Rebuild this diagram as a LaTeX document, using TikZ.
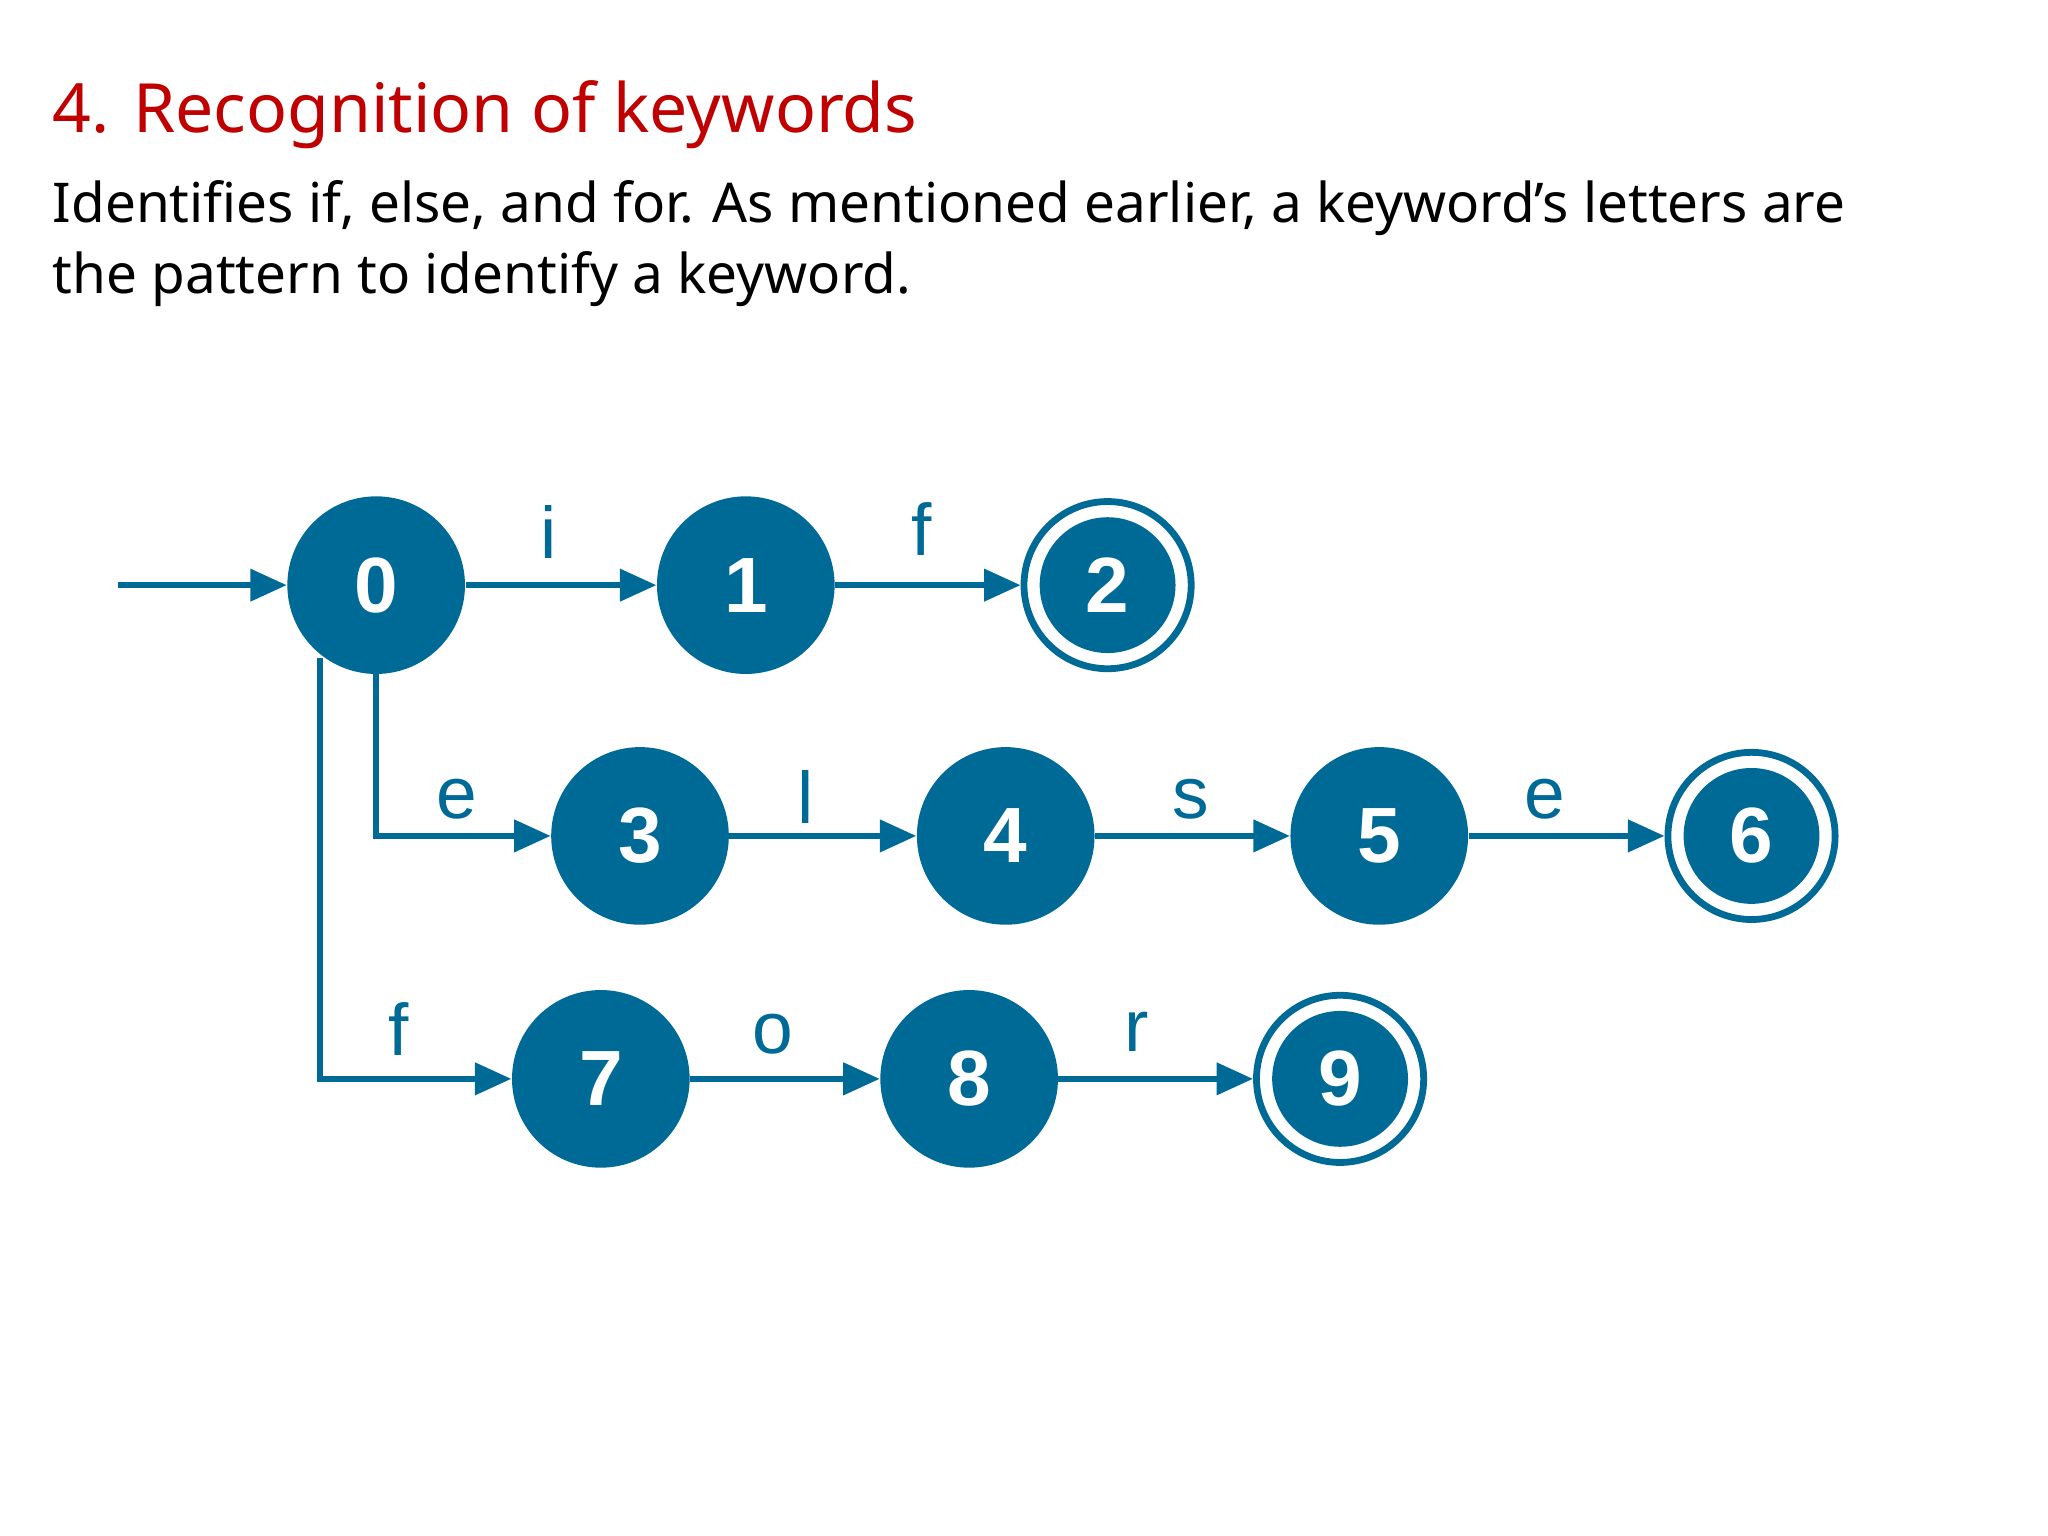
\documentclass[tikz,border=0pt]{standalone}
\usepackage{fontspec}
\setmainfont{Noto Sans}
\newfontfamily\arial{Liberation Sans}
\usetikzlibrary{arrows.meta}
\definecolor{dblue}{HTML}{006A96}
\definecolor{tred}{HTML}{C00000}
\begin{document}
\begin{tikzpicture}[x=0.5pt,y=-0.5pt,
  st/.style={circle,fill=dblue,minimum size=68pt,inner sep=0pt,text=white,font=\arial\bfseries\fontsize{30}{30}\selectfont},
  acc/.style={circle,draw=dblue,line width=2.6pt,fill=white,minimum size=64pt,inner sep=0pt},
  inner/.style={circle,fill=dblue,minimum size=52pt,inner sep=0pt,text=white,font=\arial\bfseries\fontsize{30}{30}\selectfont},
  tr/.style={draw=dblue,line width=2.4pt,-{Triangle[length=14pt,width=12pt]}},
  lab/.style={text=dblue,font=\arial\fontsize{28}{28}\selectfont,inner sep=0pt}]
\useasboundingbox (0,0) rectangle (1568,1176);
\node[anchor=west,text=tred,font=\bfseries\fontsize{26}{26}\selectfont,inner sep=0pt] (title) at (40,88) {4. Recognition of keywords};
\node[anchor=north west,align=left,font=\fontsize{21}{27}\selectfont,inner sep=0pt] (body) at (40,138) {Identifies if, else, and for. As mentioned earlier, a keyword's letters are\\the pattern to identify a keyword.};
\coordinate (s) at (90,448);
\node[st] (n0) at (288,448) {0};
\node[st] (n1) at (571,448) {1};
\node[acc] (n2) at (848,448) {};
\node[inner] (i2) at (848,448) {2};
\node[st] (n3) at (490,640) {3};
\node[st] (n4) at (770,640) {4};
\node[st] (n5) at (1056,640) {5};
\node[acc] (n6) at (1341,640) {};
\node[inner] (i6) at (1341,640) {6};
\node[st] (n7) at (460,826) {7};
\node[st] (n8) at (742,826) {8};
\node[acc] (n9) at (1026,826) {};
\node[inner] (i9) at (1026,826) {9};
\draw[tr] (s) -- (n0);
\draw[tr] (n0) -- (n1);
\draw[tr] (n1) -- (n2);
\draw[tr] (n0.south) |- (n3);
\draw[tr] (n3) -- (n4);
\draw[tr] (n4) -- (n5);
\draw[tr] (n5) -- (n6);
\coordinate (b) at (245,504);
\draw[tr] (b) |- (n7);
\draw[tr] (n7) -- (n8);
\draw[tr] (n8) -- (n9);
\node[lab] (l1) at (420,407) {i};
\node[lab] (l2) at (706,405) {f};
\node[lab] (l3) at (350,612) {e};
\node[lab] (l4) at (617,610) {l};
\node[lab] (l5) at (912,612) {s};
\node[lab] (l6) at (1183,612) {e};
\node[lab] (l7) at (305,788) {f};
\node[lab] (l8) at (592,792) {o};
\node[lab] (l9) at (870,790) {r};
\end{tikzpicture}
\end{document}
